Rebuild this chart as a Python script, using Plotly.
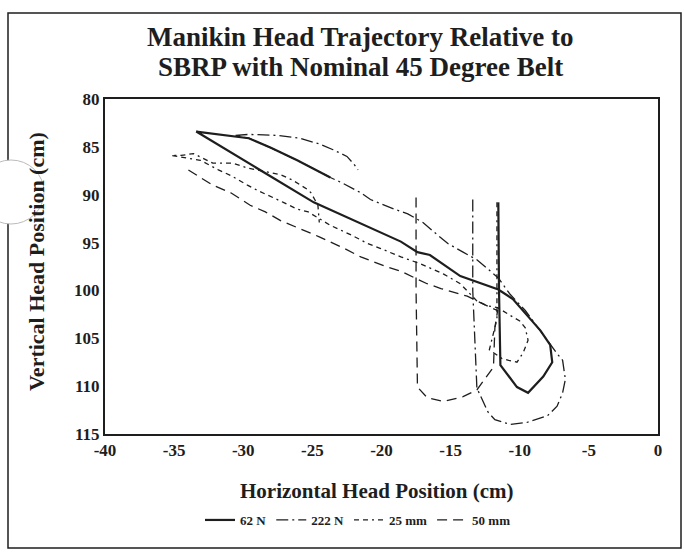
import plotly.graph_objects as go

# trajectories (horizontal cm, vertical cm)
x_62n = [-11.55, -11.5, -11.4, -10.2, -9.4, -8.3, -7.65, -7.8, -8.5, -10.5, -11.55,
         -14.3, -16.5, -17.4, -18.6, -24.9, -33.4, -29.6, -28.0, -26.1, -23.7]
y_62n = [90.8, 100.0, 107.8, 110.1, 110.7, 109.0, 107.5, 105.7, 104.2, 100.9, 99.9,
         98.5, 96.3, 96.0, 94.9, 90.8, 83.4, 84.1, 85.1, 86.4, 88.2]

x_222n = [-13.4, -13.4, -13.1, -12.7, -12.3, -11.8, -10.7, -9.5, -8.0, -7.3, -6.9, -6.7,
          -6.9, -7.3, -8.5, -9.6, -10.7, -11.55, -12.35, -13.1, -14.1, -15.2, -16.2,
          -17.0, -18.1, -19.1, -20.8, -21.5, -22.8, -23.7, -26.1, -28.0, -29.6, -30.6,
          -29.6, -27.5, -25.9, -24.5, -23.5, -22.5, -22.0, -21.7]
y_222n = [90.5, 100.0, 110.2, 111.4, 112.7, 113.5, 114.0, 113.8, 113.1, 112.1, 110.7, 109.3,
          107.3, 106.6, 104.2, 102.1, 100.4, 98.7, 97.7, 96.8, 96.0, 95.1, 93.9,
          92.9, 92.0, 91.5, 90.5, 89.8, 88.8, 88.2, 86.4, 85.1, 84.1, 83.8,
          83.7, 83.8, 84.1, 84.7, 85.3, 86.0, 86.8, 87.4]

x_25mm = [-11.65, -11.65, -12.2, -11.3, -10.8, -10.2, -9.75, -9.4, -9.6, -10.0, -10.7, -11.6,
          -12.35, -13.1, -14.3, -15.5, -17.2, -18.6, -20.1, -21.0, -22.2, -23.7, -25.3,
          -26.1, -27.1, -27.9, -28.9, -29.7, -30.9, -31.8, -33.1, -35.2,
          -34.5, -33.6, -32.2, -30.8, -29.7, -28.0, -27.3, -26.4, -25.3, -25.1, -24.6, -24.5]
y_25mm = [90.8, 103.0, 106.2, 107.1, 107.3, 107.5, 106.5, 105.2, 103.9, 103.2, 102.6, 101.8,
          101.6, 101.1, 99.3, 98.3, 97.2, 96.5, 95.6, 95.1, 94.2, 93.2, 91.8,
          91.5, 90.8, 90.3, 89.6, 89.0, 88.0, 87.4, 86.4, 85.9,
          85.9, 85.7, 86.7, 86.7, 87.2, 87.7, 87.9, 88.5, 89.5, 89.8, 91.1, 92.9]

x_50mm = [-17.5, -17.5, -17.4, -16.7, -15.5, -14.1, -13.1, -12.3, -11.9, -11.8, -11.6,
          -12.1, -13.1, -13.8, -15.7, -16.7, -18.6, -19.7, -21.5, -22.7, -24.5, -25.6,
          -27.3, -28.4, -29.5, -30.9, -32.2, -33.1, -34.2]
y_50mm = [90.3, 100.0, 110.1, 111.2, 111.6, 111.1, 110.4, 108.8, 108.0, 103.9, 102.1,
          101.8, 101.1, 100.6, 99.8, 99.3, 98.0, 97.5, 96.5, 95.6, 94.4, 93.7,
          92.7, 91.8, 91.1, 89.8, 89.0, 88.2, 87.2]

x_ticks = [-40, -35, -30, -25, -20, -15, -10, -5, 0]
x_tick_labels = ["-40", "-35", "-30", "-25", "-20", "-15", "-10", "-5", "0"]
y_ticks = [80, 85, 90, 95, 100, 105, 110, 115]

ink = "#1e1e1e"
serif = "Liberation Serif"

# plot area in pixels: x 105..658, y 99..434
L, R, T, B = 105, 658, 99, 434
def px(x):
    return (x - L) / (R - L)
def py(y):
    return (B - y) / (B - T)

fig = go.Figure()
fig.add_trace(go.Scatter(x=x_62n, y=y_62n, mode="lines", name="62 N",
                         line=dict(color=ink, width=2.2)))
fig.add_trace(go.Scatter(x=x_222n, y=y_222n, mode="lines", name="222 N",
                         line=dict(color=ink, width=1.3, dash="12px,4px,2px,4px")))
fig.add_trace(go.Scatter(x=x_25mm, y=y_25mm, mode="lines", name="25 mm",
                         line=dict(color=ink, width=1.3, dash="5px,4px,5px,4px,2px,4px")))
fig.add_trace(go.Scatter(x=x_50mm, y=y_50mm, mode="lines", name="50 mm",
                         line=dict(color=ink, width=1.3, dash="10px,6px")))

fig.update_layout(
    width=684, height=552,
    margin=dict(l=L, r=684 - R, t=T, b=552 - B),
    paper_bgcolor="white", plot_bgcolor="white",
    font=dict(family=serif, color=ink),
    showlegend=True,
    legend=dict(orientation="h", x=px(358), xanchor="center", y=py(520), yanchor="middle",
                font=dict(size=13, family=serif, weight="bold"),
                bgcolor="rgba(0,0,0,0)", itemwidth=30),
)
fig.update_xaxes(range=[-40, 0], tickvals=x_ticks, ticktext=x_tick_labels,
                 showgrid=False, zeroline=False,
                 showline=True, linecolor=ink, linewidth=2, mirror=True, ticks="",
                 tickfont=dict(size=17, family=serif, weight="bold"))
fig.update_yaxes(range=[115, 80], tickvals=y_ticks, showgrid=False, zeroline=False,
                 showline=True, linecolor=ink, linewidth=2, mirror=True, ticks="",
                 tickfont=dict(size=17, family=serif, weight="bold"))

# two title lines, placed separately to get the tight line spacing of the scan
fig.add_annotation(text="Manikin Head Trajectory Relative to", xref="paper", yref="paper",
                   x=px(360), y=py(37), xanchor="center", yanchor="middle", showarrow=False,
                   font=dict(size=27, family=serif, weight="bold"))
fig.add_annotation(text="SBRP with Nominal 45 Degree Belt", xref="paper", yref="paper",
                   x=px(360), y=py(67), xanchor="center", yanchor="middle", showarrow=False,
                   font=dict(size=27, family=serif, weight="bold"))
fig.add_annotation(text="Horizontal Head Position (cm)", xref="paper", yref="paper",
                   x=px(377), y=py(491), xanchor="center", yanchor="middle", showarrow=False,
                   font=dict(size=21, family=serif, weight="bold"))
fig.add_annotation(text="Vertical Head Position (cm)", xref="paper", yref="paper",
                   x=px(36), y=py(262), xanchor="center", yanchor="middle",
                   textangle=-90, showarrow=False,
                   font=dict(size=22, family=serif, weight="bold"))

# outer frame of the figure
fig.add_shape(type="rect", xref="paper", yref="paper",
              x0=px(8), x1=px(681), y0=py(548), y1=py(13),
              line=dict(color=ink, width=1.5))
# punched hole in the scan
fig.add_shape(type="circle", xref="paper", yref="paper", layer="above",
              x0=px(-22), x1=px(44), y0=py(224), y1=py(160),
              fillcolor="white", line=dict(color="#bbbbbb", width=1))

fig.write_html("out.html", config={"displayModeBar": False},
               post_script="document.body.style.margin='0';")
